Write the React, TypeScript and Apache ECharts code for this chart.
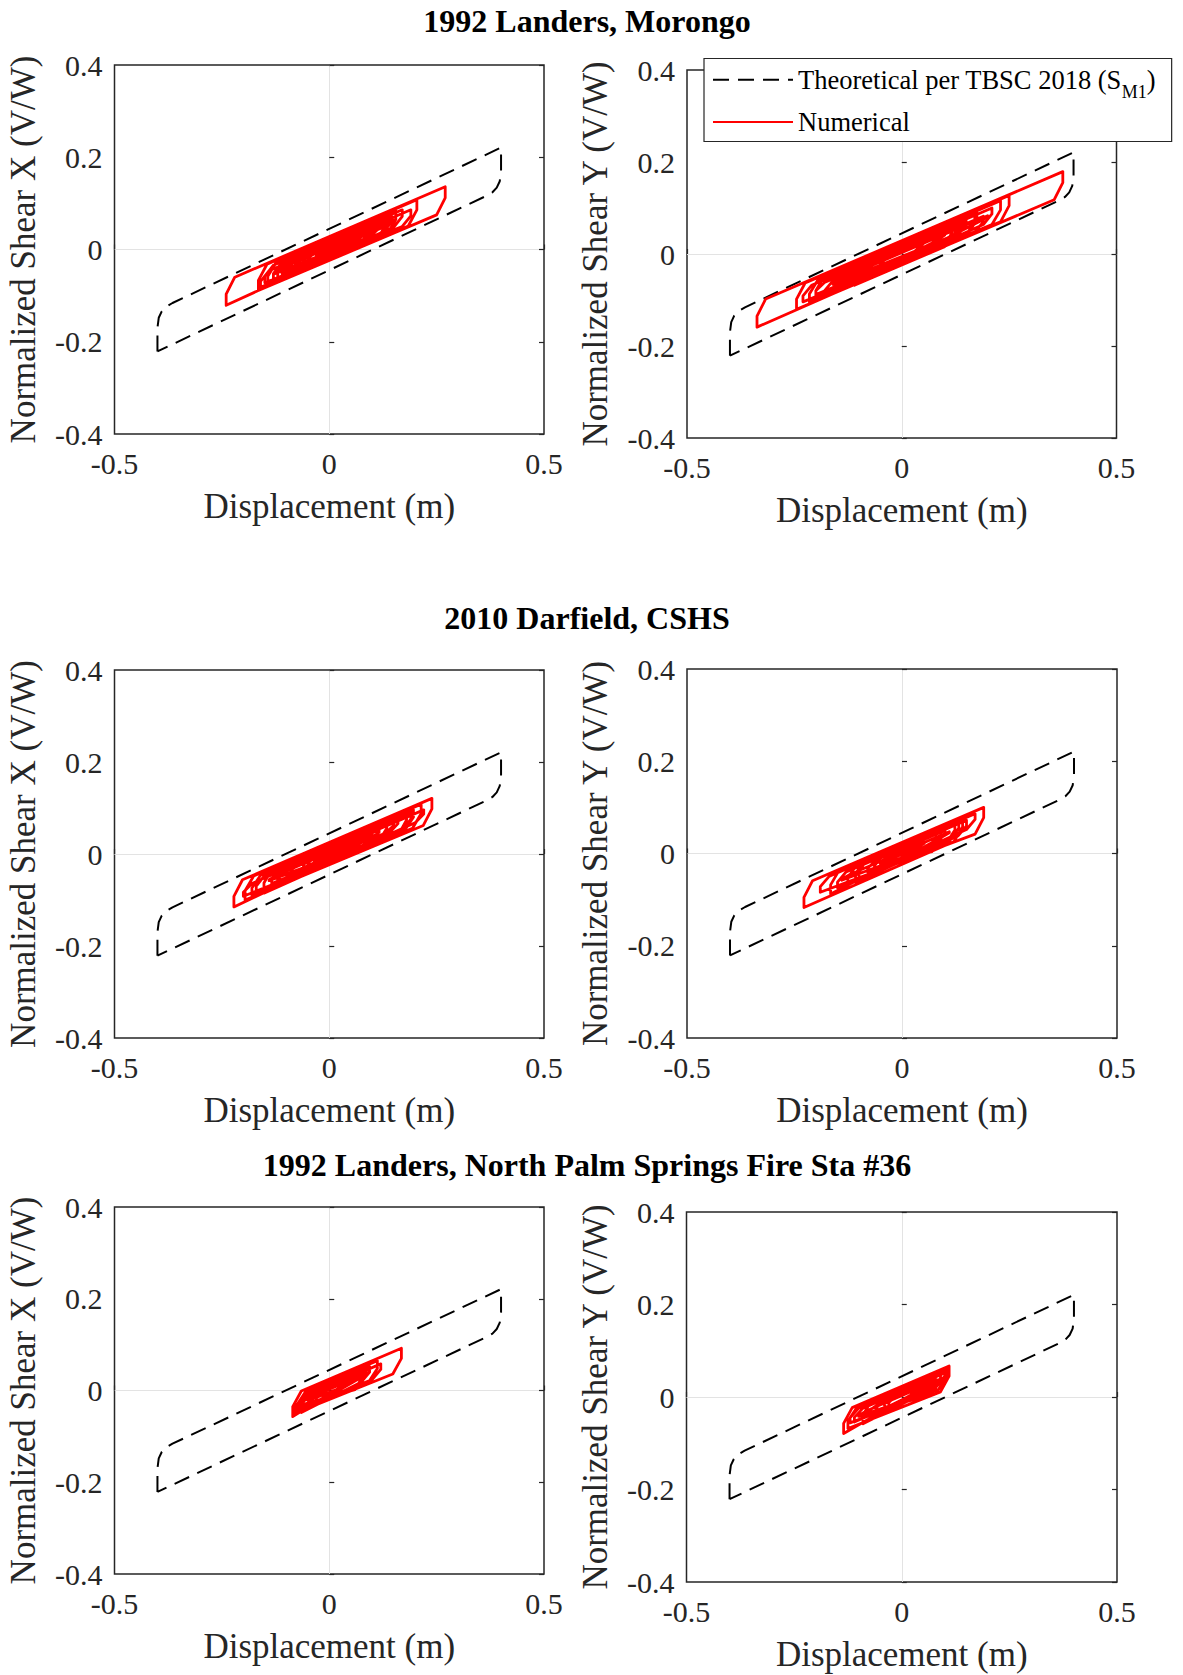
import React, { useEffect, useRef } from "react";
import * as echarts from "echarts";

const FONT = '"Liberation Serif", "Times New Roman", Times, serif';

// ---- text ----
const plotTitles = [
  "1992 Landers, Morongo",
  "2010 Darfield, CSHS",
  "1992 Landers, North Palm Springs Fire Sta #36",
];
const xAxisName = "Displacement (m)";
const yAxisNames = ["Normalized Shear X (V/W)", "Normalized Shear Y (V/W)"];
const theoName = "Theoretical per TBSC 2018 (SM1)";
const numName = "Numerical";

// ---- ticks ----
const xTicks = [-0.5, 0, 0.5];
const yTicks = [-0.4, -0.2, 0, 0.2, 0.4];

// ---- theoretical bilinear loop (same in every panel) ----
const theoreticalLoop = [
  [-0.4, -0.221], [-0.4, -0.17], [-0.397, -0.148], [-0.39, -0.134], [-0.38, -0.124], [-0.365, -0.116],
  [0.4, 0.221], [0.4, 0.17], [0.397, 0.148], [0.39, 0.134], [0.38, 0.124], [0.365, 0.116],
  [-0.4, -0.221],
];

// ---- numerical hysteresis ----
const morongoX = [
  [-0.06, -0.034], [-0.06, -0.024], [-0.04, -0.004], [0.07, 0.04], [0.07, 0.03], [0.05, 0.01],
  [-0.1, -0.056], [-0.1, -0.041], [-0.08, -0.014], [0.1, 0.058], [0.1, 0.043], [0.08, 0.016],
  [-0.24, -0.121], [-0.24, -0.097], [-0.22, -0.06], [0.27, 0.136], [0.27, 0.112], [0.25, 0.075],
  [-0.165, -0.089], [-0.165, -0.067], [-0.145, -0.032], [0.204, 0.108], [0.204, 0.086], [0.184, 0.051],
  [-0.143, -0.077], [-0.143, -0.058], [-0.123, -0.027], [0.155, 0.084], [0.155, 0.065], [0.135, 0.034],
  [-0.15, -0.072], [-0.15, -0.058], [-0.13, -0.034], [0.17, 0.086], [0.17, 0.072], [0.15, 0.048],
  [-0.13, -0.066], [-0.13, -0.052], [-0.11, -0.028], [0.145, 0.074], [0.145, 0.06], [0.125, 0.036],
  [-0.12, -0.066], [-0.12, -0.049], [-0.1, -0.02], [0.135, 0.074], [0.135, 0.057], [0.115, 0.028],
  [-0.16, -0.082], [-0.16, -0.069], [-0.14, -0.046], [0.19, 0.086], [0.19, 0.073], [0.17, 0.05],
  [-0.11, -0.052], [-0.11, -0.044], [-0.09, -0.026], [0.12, 0.058], [0.12, 0.05], [0.1, 0.032],
  [-0.09, -0.058], [-0.09, -0.037], [-0.07, -0.004], [0.09, 0.06], [0.09, 0.039], [0.07, 0.006],
  [-0.08, -0.036], [-0.08, -0.031], [-0.06, -0.018], [0.065, 0.032], [0.065, 0.027], [0.045, 0.014],
  [-0.07, -0.04], [-0.07, -0.028], [-0.05, -0.006], [0.08, 0.046], [0.08, 0.034], [0.06, 0.012],
  [-0.05, -0.026], [-0.05, -0.02], [-0.03, -0.004], [0.05, 0.028], [0.05, 0.022], [0.03, 0.006],
  [-0.125, -0.052], [-0.125, -0.049], [-0.105, -0.038], [0.15, 0.064], [0.15, 0.061], [0.13, 0.05],
  [-0.03, -0.014], [-0.03, -0.011], [-0.01, 0.0], [0.03, 0.016], [0.03, 0.013], [0.01, 0.002], [-0.03, -0.014],
];

const morongoY = [
  [-0.05, -0.026], [-0.05, -0.02], [-0.03, -0.004], [0.05, 0.028], [0.05, 0.022], [0.03, 0.006],
  [-0.1, -0.054], [-0.1, -0.04], [-0.08, -0.016], [0.09, 0.052], [0.09, 0.038], [0.07, 0.014],
  [-0.215, -0.105], [-0.215, -0.087], [-0.195, -0.056], [0.17, 0.09], [0.17, 0.072], [0.15, 0.041],
  [-0.337, -0.159], [-0.337, -0.135], [-0.317, -0.098], [0.375, 0.179], [0.375, 0.155], [0.355, 0.118],
  [-0.245, -0.12], [-0.245, -0.098], [-0.225, -0.063], [0.25, 0.127], [0.25, 0.105], [0.23, 0.07],
  [-0.23, -0.104], [-0.23, -0.091], [-0.21, -0.068], [0.21, 0.1], [0.21, 0.087], [0.19, 0.064],
  [-0.2, -0.1], [-0.2, -0.08], [-0.18, -0.048], [0.23, 0.116], [0.23, 0.096], [0.21, 0.064],
  [-0.14, -0.072], [-0.14, -0.056], [-0.12, -0.028], [0.175, 0.09], [0.175, 0.074], [0.155, 0.046],
  [-0.18, -0.092], [-0.18, -0.08], [-0.16, -0.058], [0.19, 0.082], [0.19, 0.07], [0.17, 0.048],
  [-0.125, -0.06], [-0.125, -0.05], [-0.105, -0.03], [0.15, 0.072], [0.15, 0.062], [0.13, 0.042],
  [-0.09, -0.057], [-0.09, -0.037], [-0.07, -0.004], [0.13, 0.076], [0.13, 0.056], [0.11, 0.023],
  [-0.075, -0.034], [-0.075, -0.029], [-0.055, -0.016], [0.1, 0.046], [0.1, 0.041], [0.08, 0.028],
  [-0.045, -0.03], [-0.045, -0.018], [-0.025, 0.004], [0.08, 0.046], [0.08, 0.034], [0.06, 0.012],
  [-0.2, -0.088], [-0.2, -0.08], [-0.18, -0.062], [0.14, 0.066], [0.14, 0.058], [0.12, 0.04],
  [-0.16, -0.066], [-0.16, -0.064], [-0.14, -0.053], [0.2, 0.083], [0.2, 0.081], [0.18, 0.07],
  [-0.11, -0.068], [-0.11, -0.045], [-0.09, -0.008], [0.12, 0.076], [0.12, 0.053], [0.1, 0.016], [-0.11, -0.068],
];

const darfieldX = [
  [-0.05, -0.026], [-0.05, -0.02], [-0.03, -0.004], [0.04, 0.024], [0.04, 0.018], [0.02, 0.002],
  [-0.12, -0.062], [-0.12, -0.048], [-0.1, -0.024], [0.08, 0.048], [0.08, 0.034], [0.06, 0.01],
  [-0.222, -0.115], [-0.222, -0.092], [-0.202, -0.056], [0.239, 0.121], [0.239, 0.098], [0.219, 0.062],
  [-0.196, -0.1], [-0.196, -0.08], [-0.176, -0.048], [0.214, 0.108], [0.214, 0.088], [0.194, 0.056],
  [-0.2, -0.092], [-0.2, -0.083], [-0.18, -0.064], [0.22, 0.096], [0.22, 0.087], [0.2, 0.068],
  [-0.18, -0.09], [-0.18, -0.074], [-0.16, -0.046], [0.196, 0.096], [0.196, 0.08], [0.176, 0.052],
  [-0.152, -0.085], [-0.152, -0.063], [-0.132, -0.029], [0.18, 0.096], [0.18, 0.074], [0.16, 0.04],
  [-0.17, -0.084], [-0.17, -0.07], [-0.15, -0.046], [0.19, 0.09], [0.19, 0.076], [0.17, 0.052],
  [-0.134, -0.064], [-0.134, -0.054], [-0.114, -0.034], [0.16, 0.076], [0.16, 0.066], [0.14, 0.046],
  [-0.116, -0.066], [-0.116, -0.048], [-0.096, -0.018], [0.134, 0.074], [0.134, 0.056], [0.114, 0.026],
  [-0.09, -0.04], [-0.09, -0.035], [-0.07, -0.022], [0.116, 0.052], [0.116, 0.047], [0.096, 0.034],
  [-0.06, -0.036], [-0.06, -0.024], [-0.04, -0.002], [0.075, 0.044], [0.075, 0.032], [0.055, 0.01],
  [-0.14, -0.058], [-0.14, -0.056], [-0.12, -0.045], [0.1, 0.043], [0.1, 0.041], [0.08, 0.03],
  [-0.1, -0.047], [-0.1, -0.039], [-0.08, -0.022], [0.15, 0.07], [0.15, 0.062], [0.13, 0.045],
  [-0.035, -0.016], [-0.035, -0.013], [-0.015, -0.002], [0.036, 0.018], [0.036, 0.015], [0.016, 0.004], [-0.035, -0.016],
];

const darfieldY = [
  [-0.05, -0.026], [-0.05, -0.02], [-0.03, -0.004], [0.05, 0.028], [0.05, 0.022], [0.03, 0.006],
  [-0.166, -0.088], [-0.166, -0.068], [-0.146, -0.036], [0.141, 0.078], [0.141, 0.058], [0.121, 0.026],
  [-0.228, -0.117], [-0.228, -0.095], [-0.208, -0.059], [0.19, 0.1], [0.19, 0.078], [0.17, 0.042],
  [-0.19, -0.084], [-0.19, -0.072], [-0.17, -0.05], [0.17, 0.086], [0.17, 0.074], [0.15, 0.052],
  [-0.126, -0.066], [-0.126, -0.052], [-0.106, -0.026], [0.132, 0.069], [0.132, 0.055], [0.112, 0.029],
  [-0.15, -0.074], [-0.15, -0.062], [-0.13, -0.04], [0.15, 0.072], [0.15, 0.06], [0.13, 0.038],
  [-0.108, -0.062], [-0.108, -0.044], [-0.088, -0.015], [0.123, 0.069], [0.123, 0.051], [0.103, 0.022],
  [-0.08, -0.04], [-0.08, -0.032], [-0.06, -0.014], [0.1, 0.05], [0.1, 0.042], [0.08, 0.024],
  [-0.064, -0.038], [-0.064, -0.026], [-0.044, -0.004], [0.079, 0.046], [0.079, 0.034], [0.059, 0.012],
  [-0.14, -0.058], [-0.14, -0.056], [-0.12, -0.045], [0.11, 0.047], [0.11, 0.045], [0.09, 0.034],
  [-0.1, -0.064], [-0.1, -0.042], [-0.08, -0.008], [0.09, 0.06], [0.09, 0.038], [0.07, 0.004],
  [-0.046, -0.02], [-0.046, -0.017], [-0.026, -0.006], [0.052, 0.025], [0.052, 0.022], [0.032, 0.011], [-0.046, -0.02],
];

const palmSpringsX = [
  [-0.04, -0.02], [-0.04, -0.015], [-0.02, -0.002], [0.04, 0.022], [0.04, 0.017], [0.02, 0.004],
  [-0.085, -0.057], [-0.085, -0.035], [-0.065, -0.001], [0.168, 0.092], [0.168, 0.07], [0.148, 0.036],
  [-0.075, -0.048], [-0.075, -0.031], [-0.055, -0.002], [0.112, 0.065], [0.112, 0.048], [0.092, 0.019],
  [-0.08, -0.048], [-0.08, -0.036], [-0.06, -0.014], [0.12, 0.058], [0.12, 0.046], [0.1, 0.024],
  [-0.07, -0.04], [-0.07, -0.028], [-0.05, -0.006], [0.094, 0.052], [0.094, 0.04], [0.074, 0.018],
  [-0.065, -0.048], [-0.065, -0.027], [-0.045, 0.006], [0.08, 0.056], [0.08, 0.035], [0.06, 0.002],
  [-0.06, -0.03], [-0.06, -0.024], [-0.04, -0.008], [0.06, 0.032], [0.06, 0.026], [0.04, 0.01],
  [-0.05, -0.022], [-0.05, -0.02], [-0.03, -0.009], [0.09, 0.039], [0.09, 0.037], [0.07, 0.026],
  [-0.03, -0.028], [-0.03, -0.013], [-0.01, 0.014], [0.03, 0.03], [0.03, 0.015], [0.01, -0.012], [-0.03, -0.028],
];

const palmSpringsY = [
  [-0.04, -0.02], [-0.04, -0.015], [-0.02, -0.002], [0.04, 0.022], [0.04, 0.017], [0.02, 0.004],
  [-0.135, -0.079], [-0.135, -0.057], [-0.115, -0.023], [0.11, 0.067], [0.11, 0.045], [0.09, 0.011],
  [-0.125, -0.068], [-0.125, -0.052], [-0.105, -0.024], [0.105, 0.06], [0.105, 0.044], [0.085, 0.016],
  [-0.12, -0.056], [-0.12, -0.045], [-0.1, -0.024], [0.1, 0.056], [0.1, 0.045], [0.08, 0.024],
  [-0.11, -0.054], [-0.11, -0.044], [-0.09, -0.024], [0.1, 0.052], [0.1, 0.042], [0.08, 0.022],
  [-0.09, -0.058], [-0.09, -0.039], [-0.07, -0.007], [0.09, 0.057], [0.09, 0.038], [0.07, 0.006],
  [-0.075, -0.034], [-0.075, -0.029], [-0.055, -0.016], [0.08, 0.038], [0.08, 0.033], [0.06, 0.02],
  [-0.06, -0.038], [-0.06, -0.025], [-0.04, -0.001], [0.07, 0.043], [0.07, 0.03], [0.05, 0.006],
  [-0.1, -0.042], [-0.1, -0.04], [-0.08, -0.029], [0.095, 0.041], [0.095, 0.039], [0.075, 0.028],
  [-0.03, -0.02], [-0.03, -0.012], [-0.01, 0.006], [0.05, 0.03], [0.05, 0.022], [0.03, 0.004], [-0.03, -0.02],
];

const panelData = [morongoX, morongoY, darfieldX, darfieldY, palmSpringsX, palmSpringsY];

// ---- layout (pixels) ----
const gridRects = [
  [114.5, 65, 429.5, 369],
  [687, 70, 429.5, 368],
  [114.5, 670, 429.5, 368],
  [687, 669, 430, 369],
  [114.5, 1207, 429.5, 367],
  [686.5, 1212, 430.5, 370],
];
const titleCenterX = 587;
const titleCenterY = [21.4, 617.6, 1164.8];

const AXIS_COLOR = "#262626";
const GRID_COLOR = "#e3e3e3";

function buildOption() {
  const tickLine = { color: AXIS_COLOR, width: 1.2 };
  const xMin = xTicks[0];
  const xMax = xTicks[xTicks.length - 1];
  const yMin = yTicks[0];
  const yMax = yTicks[yTicks.length - 1];

  const grid = gridRects.map((r) => ({
    left: r[0],
    top: r[1],
    width: r[2],
    height: r[3],
    show: true,
    borderColor: AXIS_COLOR,
    borderWidth: 1.5,
    backgroundColor: "transparent",
    containLabel: false,
    outerBoundsMode: "none",
  }));

  const xAxis = panelData.map((_, i) => ({
    gridIndex: i,
    type: "value",
    min: xMin,
    max: xMax,
    interval: xTicks[1] - xTicks[0],
    name: xAxisName,
    nameLocation: "middle",
    nameGap: 55,
    nameTextStyle: { fontFamily: FONT, fontSize: 35, color: AXIS_COLOR },
    axisLine: { show: false },
    axisTick: { show: true, inside: true, length: 5, lineStyle: tickLine },
    axisLabel: { margin: 14, fontFamily: FONT, fontSize: 30, color: AXIS_COLOR },
    splitLine: {
      show: true,
      showMinLine: false,
      showMaxLine: false,
      lineStyle: { color: GRID_COLOR, width: 1 },
    },
  }));

  const yAxis: any[] = [];
  panelData.forEach((_, i) => {
    yAxis.push({
      gridIndex: i,
      type: "value",
      position: "left",
      min: yMin,
      max: yMax,
      interval: yTicks[1] - yTicks[0],
      name: yAxisNames[i % 2],
      nameLocation: "middle",
      nameGap: 74,
      nameTextStyle: { fontFamily: FONT, fontSize: 35, color: AXIS_COLOR },
      axisLine: { show: false },
      axisTick: { show: true, inside: true, length: 5, lineStyle: tickLine },
      axisLabel: { margin: 12, fontFamily: FONT, fontSize: 30, color: AXIS_COLOR },
      splitLine: { show: false },
    });
    yAxis.push({
      gridIndex: i,
      type: "value",
      position: "right",
      min: yMin,
      max: yMax,
      interval: yTicks[1] - yTicks[0],
      axisLine: { show: false },
      axisTick: { show: true, inside: true, length: 5, lineStyle: tickLine },
      axisLabel: { show: false },
      splitLine: { show: false },
    });
    yAxis.push({
      gridIndex: i,
      type: "value",
      position: "left",
      min: yMin,
      max: yMax,
      interval: yMax,
      axisLine: { show: false },
      axisTick: { show: false },
      axisLabel: { show: false },
      splitLine: {
        show: true,
        showMinLine: false,
        showMaxLine: false,
        lineStyle: { color: GRID_COLOR, width: 1 },
      },
    });
  });

  const series: any[] = [];
  panelData.forEach((data, i) => {
    series.push({
      type: "line",
      name: theoName,
      xAxisIndex: i,
      yAxisIndex: 3 * i,
      data: theoreticalLoop,
      symbol: "none",
      showSymbol: false,
      silent: true,
      z: 2,
      lineStyle: { color: "#000000", width: 2, type: [16, 9] },
      itemStyle: { color: "#000000" },
    });
    series.push({
      type: "line",
      name: numName,
      xAxisIndex: i,
      yAxisIndex: 3 * i,
      data,
      symbol: "none",
      showSymbol: false,
      silent: true,
      z: 3,
      lineStyle: { color: "#ff0000", width: 2.8, join: "round" },
      itemStyle: { color: "#ff0000" },
    });
  });

  const graphic = plotTitles.map((t, i) => ({
    type: "text",
    x: titleCenterX,
    y: titleCenterY[i],
    silent: true,
    style: {
      text: t,
      fontFamily: FONT,
      fontSize: 32,
      fontWeight: "bold",
      fill: "#000",
      align: "center",
      verticalAlign: "middle",
    },
  }));

  return {
    animation: false,
    backgroundColor: "#ffffff",
    grid,
    xAxis,
    yAxis,
    series,
    graphic,
    legend: {
      show: true,
      orient: "vertical",
      left: 704,
      top: 58.5,
      padding: [6.3, 16, 4.5, 8],
      itemGap: 6.2,
      itemWidth: 80,
      itemHeight: 14,
      backgroundColor: "#ffffff",
      borderColor: AXIS_COLOR,
      borderWidth: 1.2,
      selectedMode: false,
      z: 10,
      data: [theoName, numName],
      formatter: (name: string) =>
        name === theoName ? "Theoretical per TBSC 2018 (S{sub|M1})" : name,
      lineStyle: { width: 2 },
      itemStyle: {
        color: "rgba(0,0,0,0)",
        borderColor: "rgba(0,0,0,0)",
        borderWidth: 0,
        opacity: 0,
      },
      textStyle: {
        fontFamily: FONT,
        fontSize: 26.5,
        lineHeight: 30,
        color: "#000",
        rich: {
          sub: {
            fontFamily: FONT,
            fontSize: 18,
            lineHeight: 30,
            height: 6,
            verticalAlign: "bottom",
            color: "#000",
          },
        },
      },
    },
  };
}

export default function App() {
  const ref = useRef<HTMLDivElement>(null);
  useEffect(() => {
    document.body.style.margin = "0";
    if (!ref.current) return;
    const chart = echarts.init(ref.current, null, { renderer: "svg" });
    chart.setOption(buildOption() as any);
    return () => chart.dispose();
  }, []);
  return (
    <div
      ref={ref}
      style={{ position: "absolute", left: 0, top: 0, width: 1183, height: 1675, background: "#fff" }}
    />
  );
}
